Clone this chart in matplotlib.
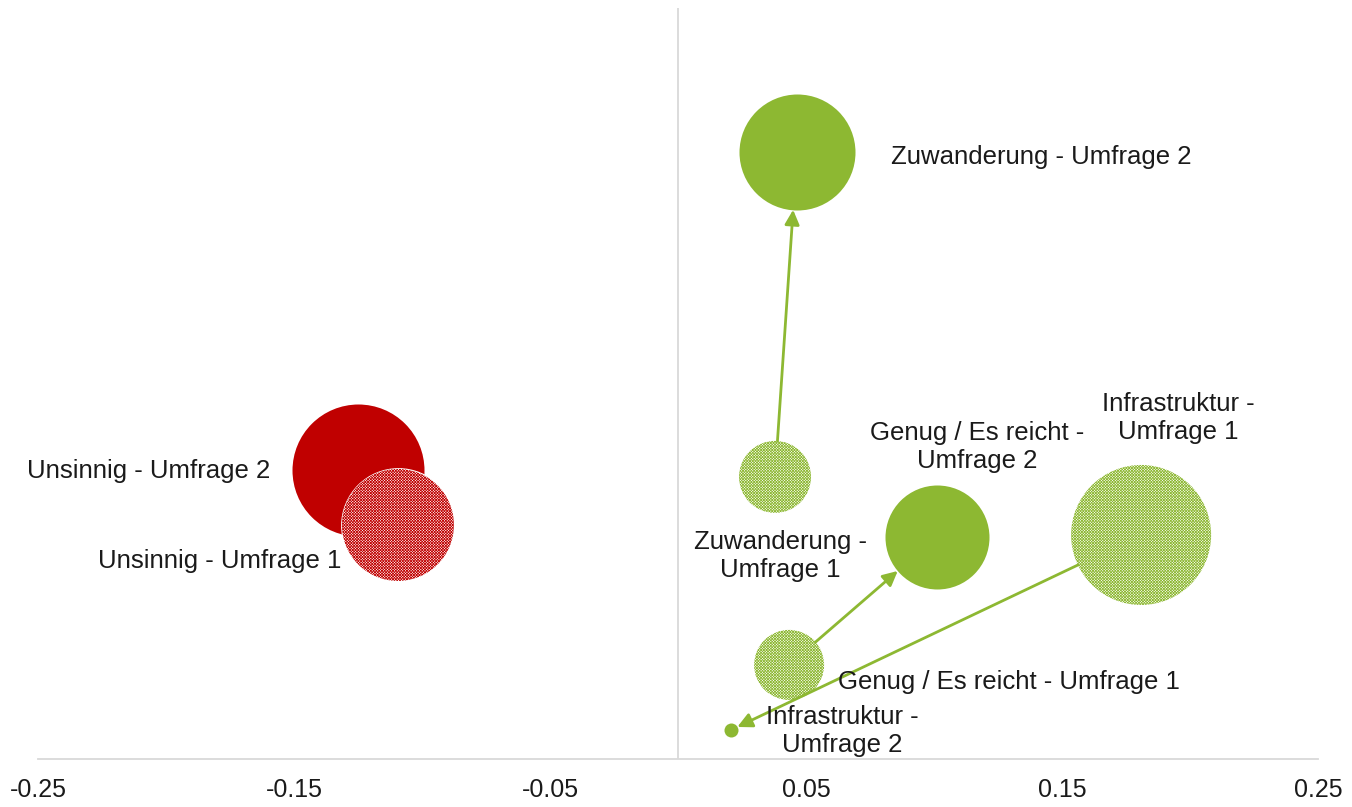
import numpy as np
import matplotlib
matplotlib.use("Agg")
import matplotlib.pyplot as plt

plt.rcParams['font.family'] = ['Liberation Sans', 'DejaVu Sans']
plt.rcParams['hatch.linewidth'] = 0.55

# bubble data (x = Differenz, y = Wert, size = bubble value)
labels = ["Zuwanderung - Umfrage 2", "Zuwanderung -\nUmfrage 1",
          "Genug / Es reicht -\nUmfrage 2", "Genug / Es reicht - Umfrage 1",
          "Infrastruktur -\nUmfrage 1", "Infrastruktur -\nUmfrage 2",
          "Unsinnig - Umfrage 2", "Unsinnig - Umfrage 1"]
x_vals = [0.0465, 0.0379, 0.1012, 0.0434, 0.1809, 0.0207, -0.1250, -0.1094]
y_vals = [0.2425, 0.1127, 0.0887, 0.0376, 0.0895, 0.0116, 0.1155, 0.0935]
sizes = [3364, 1296, 2704, 1225, 4900, 49, 4356, 3136]
umfrage = [2, 1, 2, 1, 1, 2, 2, 1]
gruppe = ["zu", "zu", "genug", "genug", "infra", "infra", "uns", "uns"]

# arrows: from survey 1 to survey 2 (indices)
arrows = [(1, 0), (3, 2), (4, 5)]

green = "#8DB832"
red = "#C00000"
colors = {"zu": green, "genug": green, "infra": green, "uns": red}

# label offsets in points and alignment
offsets = [(68, -4, "left"), (4, -57, "center"), (29, 65, "center"),
           (35, -12, "left"), (27, 84, "center"), (80, -1, "center"),
           (-63, -1, "right"), (-41, -26, "right")]

fig = plt.figure(figsize=(13.52, 8.07), dpi=100)
ax = fig.add_axes([38 / 1352, 48 / 807, 1280 / 1352, 751 / 807])

scale = 1.44 ** 2
s_pts = [v * scale for v in sizes]

order = [6, 7, 0, 1, 2, 3, 4, 5]
for i in order:
    c = colors[gruppe[i]]
    if umfrage[i] == 2:
        ax.scatter(x_vals[i], y_vals[i], s=s_pts[i], color=c, linewidth=0, zorder=3)
    else:
        ax.scatter(x_vals[i], y_vals[i], s=s_pts[i], facecolor="white",
                   edgecolor="white", linewidth=2, zorder=3)
        ax.scatter(x_vals[i], y_vals[i], s=s_pts[i], facecolor="white",
                   edgecolor=c, hatch="xxxxxxxxxxxx", linewidth=0, zorder=3)

for a, b in arrows:
    ra = np.sqrt(s_pts[a]) / 2
    rb = np.sqrt(s_pts[b]) / 2
    ax.annotate("", xy=(x_vals[b], y_vals[b]), xytext=(x_vals[a], y_vals[a]),
                arrowprops=dict(arrowstyle="-|>", color=green, lw=2.0,
                                shrinkA=ra, shrinkB=rb, mutation_scale=22),
                zorder=4)

for i, lab in enumerate(labels):
    dx, dy, ha = offsets[i]
    ax.annotate(lab, xy=(x_vals[i], y_vals[i]), xytext=(dx, dy),
                textcoords="offset points", ha=ha, va="center",
                fontsize=18.5, color="#1a1a1a", linespacing=1.2, zorder=5)

ax.axvline(0, color="#D9D9D9", lw=1.3, zorder=1)
ax.set_xlim(-0.25, 0.25)
ax.set_ylim(0, 0.3)
ax.set_xticks([-0.25, -0.15, -0.05, 0.05, 0.15, 0.25])
ax.set_xticklabels(["-0.25", "-0.15", "-0.05", "0.05", "0.15", "0.25"])
ax.set_yticks([])
ax.tick_params(axis="x", length=0, pad=14, labelsize=18, labelcolor="#1a1a1a")
for side in ["left", "right", "top"]:
    ax.spines[side].set_visible(False)
ax.spines["bottom"].set_color("#D9D9D9")
ax.spines["bottom"].set_linewidth(1.3)

fig.savefig("out.png", dpi=100)
